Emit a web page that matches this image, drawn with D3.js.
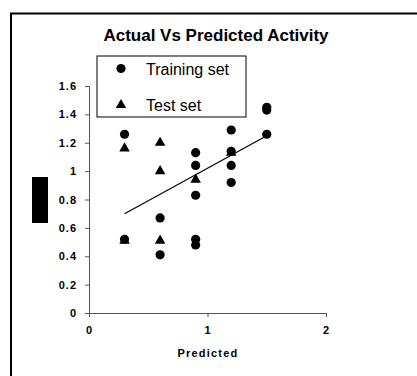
<!DOCTYPE html>
<html>
<head>
<meta charset="utf-8">
<script src="https://cdn.jsdelivr.net/npm/d3@7"></script>
<style>
  html, body { margin: 0; background: #fff; overflow: hidden; }
  svg { display: block; }
  text { font-family: "Liberation Sans", Arial, sans-serif; }
</style>
</head>
<body>
<div id="canvas"></div>
<script>
const trainX = [0.3, 0.3, 0.6, 0.6, 0.9, 0.9, 0.9, 0.9, 0.9, 1.2, 1.2, 1.2, 1.2, 1.5, 1.5, 1.5];
const trainY = [1.26, 0.52, 0.67, 0.41, 1.13, 1.04, 0.83, 0.52, 0.48, 1.29, 1.14, 1.04, 0.92, 1.26, 1.45, 1.43];
const testX = [0.3, 0.3, 0.6, 0.6, 0.6, 0.9, 1.2];
const testY = [1.16, 0.51, 1.2, 1.0, 0.51, 0.94, 1.13];
const fitX = [0.3, 1.5];
const fitY = [0.7, 1.25];
const xTicks = [0, 1, 2];
const yTicks = [0, 0.2, 0.4, 0.6, 0.8, 1, 1.2, 1.4, 1.6];

const width = 417;
const height = 376;
const margin = { top: 86, left: 89 };
const inWidth = 237;
const inHeight = 227;

const svg = d3.select("#canvas").append("svg")
  .attr("width", width)
  .attr("height", height);

// outer frame: only left and top edges fall inside the picture
svg.append("path")
  .attr("d", `M11,${height} V13.5 H${width}`)
  .attr("fill", "none").attr("stroke", "#000").attr("stroke-width", 2);

svg.append("text")
  .attr("x", 216).attr("y", 41)
  .attr("text-anchor", "middle")
  .attr("font-size", 17).attr("font-weight", "bold")
  .text("Actual Vs Predicted Activity");

const xScale = d3.scaleLinear().domain([0, 2]).range([0, inWidth]);
const yScale = d3.scaleLinear().domain([0, 1.6]).range([inHeight, 0]);

const g = svg.append("g")
  .attr("transform", `translate(${margin.left},${margin.top})`);

const yAxis = g.append("g")
  .call(d3.axisLeft(yScale).tickValues(yTicks).tickSize(4).tickPadding(8)
    .tickFormat(d => d === 0 || d === 1 ? d : d3.format(".1f")(d)));
const xAxis = g.append("g")
  .attr("transform", `translate(0,${inHeight})`)
  .call(d3.axisBottom(xScale).tickValues(xTicks).tickSize(4).tickPadding(9)
    .tickFormat(d => d));

[xAxis, yAxis].forEach(a => {
  a.select(".domain").attr("stroke", "#555");
  a.selectAll(".tick line").attr("stroke", "#555");
  a.selectAll(".tick text")
    .attr("font-family", "Liberation Sans, Arial, sans-serif")
    .attr("font-size", 11).attr("font-weight", "bold")
    .attr("letter-spacing", 1).attr("fill", "#000");
});

svg.append("text")
  .attr("x", 208).attr("y", 357)
  .attr("text-anchor", "middle")
  .attr("font-size", 11).attr("font-weight", "bold")
  .attr("letter-spacing", 1.2)
  .text("Predicted");

// y axis title, rendered as a black block
svg.append("rect")
  .attr("x", 32).attr("y", 177)
  .attr("width", 16).attr("height", 46)
  .attr("fill", "#000");
svg.append("text")
  .attr("transform", "translate(44,200) rotate(-90)")
  .attr("text-anchor", "middle")
  .attr("font-size", 11).attr("font-weight", "bold")
  .attr("fill", "#000")
  .text("Actual");

// fit line
g.append("line")
  .attr("x1", xScale(fitX[0])).attr("y1", yScale(fitY[0]))
  .attr("x2", xScale(fitX[1])).attr("y2", yScale(fitY[1]))
  .attr("stroke", "#000").attr("stroke-width", 1.2);

const tri = d3.symbol().type(d3.symbolTriangle).size(48);

g.selectAll(".test")
  .data(testX.map((x, i) => ({ x, y: testY[i] })))
  .enter().append("path")
  .attr("class", "test")
  .attr("d", tri)
  .attr("transform", d => `translate(${xScale(d.x)},${yScale(d.y)})`)
  .attr("fill", "#000");

g.selectAll(".train")
  .data(trainX.map((x, i) => ({ x, y: trainY[i] })))
  .enter().append("circle")
  .attr("class", "train")
  .attr("cx", d => xScale(d.x))
  .attr("cy", d => yScale(d.y))
  .attr("r", 4.6)
  .attr("fill", "#000");

// legend
const lg = svg.append("g");
lg.append("rect")
  .attr("x", 97).attr("y", 56)
  .attr("width", 149).attr("height", 61)
  .attr("fill", "#fff").attr("stroke", "#000").attr("stroke-width", 1);
lg.append("circle").attr("cx", 121).attr("cy", 68.5).attr("r", 4.6).attr("fill", "#000");
lg.append("path").attr("d", tri).attr("transform", "translate(121,105)").attr("fill", "#000");
lg.append("text").attr("x", 146).attr("y", 75).attr("font-size", 16).text("Training set");
lg.append("text").attr("x", 146).attr("y", 111).attr("font-size", 16).text("Test set");
</script>
</body>
</html>
